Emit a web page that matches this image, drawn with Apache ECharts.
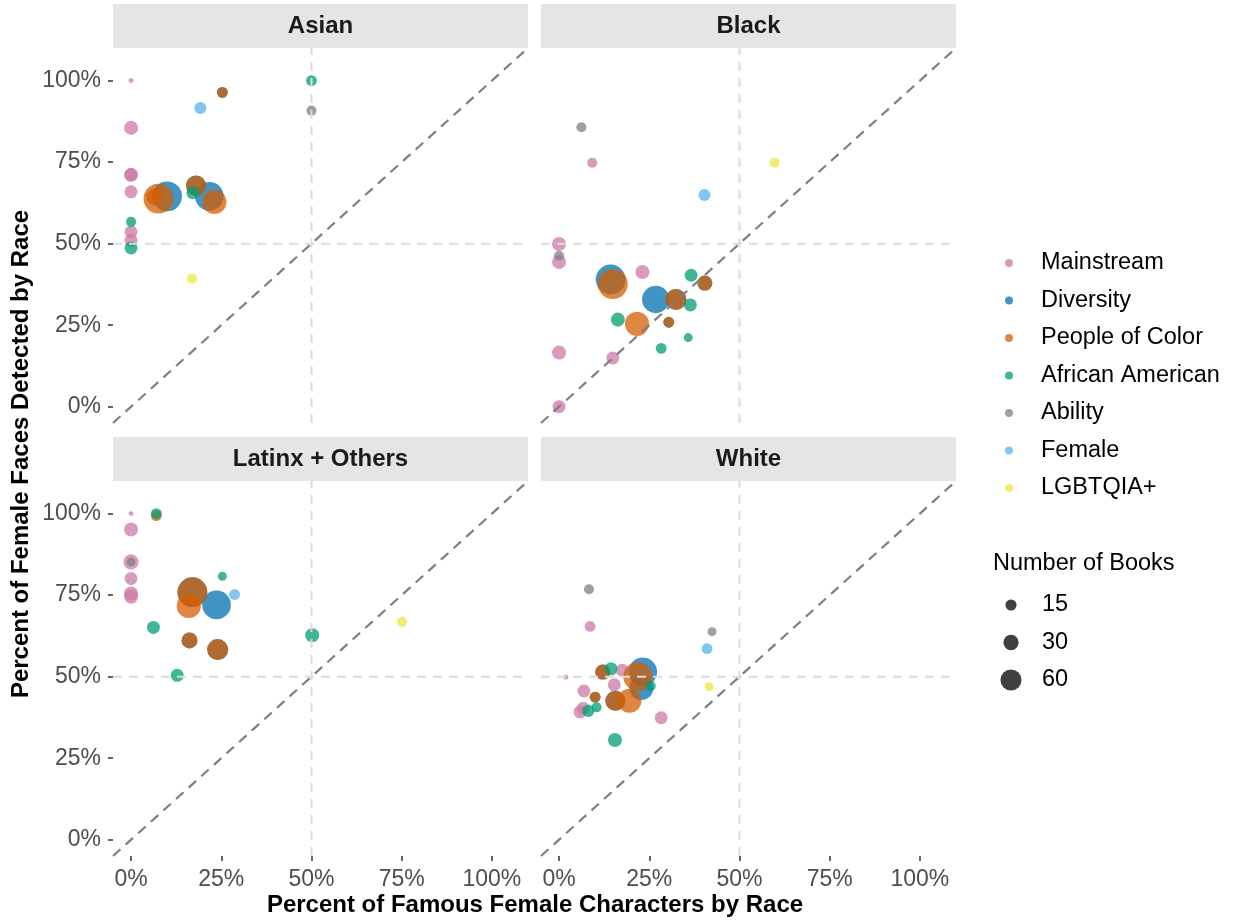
<!DOCTYPE html>
<html><head><meta charset="utf-8">
<script src="https://cdn.jsdelivr.net/npm/echarts@6/dist/echarts.min.js"></script>
<style>html,body{margin:0;padding:0;background:#fff}#c{width:1238px;height:924px}</style>
</head><body><div id="c"></div><script>
// ---------- data ----------
const panels = ['Asian', 'Black', 'Latinx + Others', 'White'];
const categories = ['Mainstream', 'Diversity', 'People of Color', 'African American', 'Ability', 'Female', 'LGBTQIA+'];
const categoryColors = ['#CC79A7', '#0072B2', '#D55E00', '#009E73', '#808080', '#56B4E9', '#F0E442'];
const xTicks = [0, 25, 50, 75, 100];
const yTicks = [0, 25, 50, 75, 100];
const sizeBreaks = [15, 30, 60];
const referenceLevel = 50;
const axisRange = [-5, 110];

// rows: [panel index, % famous female characters, % female faces detected, number of books]
const mainstream = [
  [0, 0, 100, 2], [0, 0, 85.5, 25], [0, 0, 71.1, 25], [0, 0, 71.1, 21], [0, 0, 65.9, 21], [0, 0, 53.6, 21], [0, 0, 51.0, 21],
  [1, 9.2, 74.8, 12], [1, 0, 49.9, 25], [1, 0, 44.4, 25], [1, 23.1, 41.3, 25], [1, 0, 16.6, 25], [1, 14.9, 14.9, 21], [1, 0, 0, 21],
  [2, 0, 100, 2], [2, 0, 95.1, 25], [2, 0, 85.2, 29], [2, 0, 80.1, 21], [2, 0, 75.5, 25], [2, 0, 74.5, 25],
  [3, 1.9, 49.8, 2], [3, 8.6, 65.4, 14], [3, 17.5, 52.0, 21], [3, 15.3, 47.5, 21], [3, 6.9, 45.6, 21], [3, 6.7, 40.3, 21], [3, 5.8, 39.2, 21], [3, 28.3, 37.4, 21]
];
const diversity = [
  [0, 10.0, 64.5, 125], [0, 21.7, 64.5, 115], [0, 25.3, 96.4, 14], [0, 18.0, 67.8, 54],
  [1, 14.3, 39.0, 125], [1, 26.8, 32.9, 105], [1, 40.4, 37.9, 29], [1, 32.4, 32.9, 60], [1, 30.4, 25.9, 14],
  [2, 17.0, 75.9, 125], [2, 23.7, 72.0, 115], [2, 16.2, 61.1, 33], [2, 24.0, 58.3, 60],
  [3, 23.2, 51.5, 115], [3, 22.8, 46.5, 80], [3, 12.1, 51.4, 29], [3, 10.0, 43.7, 14], [3, 15.6, 42.6, 54]
];
const peopleOfColor = [
  [0, 7.6, 63.8, 125], [0, 6.6, 64.3, 38], [0, 23.1, 62.8, 80], [0, 25.3, 96.4, 14], [0, 18.0, 67.8, 54],
  [1, 14.9, 37.6, 125], [1, 21.6, 25.4, 80], [1, 40.4, 37.9, 29], [1, 32.4, 32.9, 60], [1, 30.4, 25.9, 14],
  [2, 17.0, 75.9, 125], [2, 16.0, 71.7, 80], [2, 16.2, 61.1, 33], [2, 24.0, 58.3, 60], [2, 7.0, 99.4, 14],
  [3, 12.1, 51.4, 29], [3, 10.0, 43.7, 14], [3, 15.6, 42.6, 54], [3, 19.5, 42.6, 80], [3, 21.8, 50.0, 115]
];
const africanAmerican = [
  [0, 50, 100, 14], [0, 17.1, 65.6, 21], [0, 0, 56.7, 12], [0, 0, 48.7, 21],
  [1, 36.6, 40.3, 21], [1, 36.4, 31.2, 21], [1, 16.3, 26.7, 25], [1, 35.8, 21.2, 9], [1, 28.3, 17.9, 14],
  [2, 7.0, 100, 14], [2, 25.3, 80.8, 9], [2, 6.2, 65.1, 21], [2, 50.2, 62.7, 25], [2, 12.8, 50.4, 21],
  [3, 14.4, 52.4, 21], [3, 25.4, 47.1, 12], [3, 8.1, 39.5, 18], [3, 10.4, 40.6, 12], [3, 15.5, 30.6, 25]
];
const ability = [
  [0, 50, 90.8, 12],
  [1, 6.2, 85.7, 12], [1, 0, 46.3, 12],
  [2, 0, 85.2, 9],
  [3, 8.3, 76.8, 12], [3, 42.4, 63.8, 9]
];
const female = [
  [0, 19.2, 91.6, 18],
  [1, 40.3, 64.9, 18],
  [2, 28.7, 75.2, 14],
  [3, 41.0, 58.6, 14]
];
const lgbtqia = [
  [0, 16.9, 39.3, 12],
  [1, 59.7, 74.8, 12],
  [2, 75.1, 66.8, 12],
  [3, 41.6, 46.9, 9]
];
const categoryRows = [mainstream, diversity, peopleOfColor, africanAmerican, ability, female, lgbtqia];

// ---------- layout / style ----------
const FONT = '"Liberation Sans", Arial, Helvetica, sans-serif';
const sizeFn = n => 2.55 * Math.sqrt(n) + 1.3;
const PW = 415, PH = 375;
const gridPos = [[113, 48], [541, 48], [113, 481], [541, 481]];
const STRIP_H = 44;

const grids = gridPos.map(p => ({ left: p[0], top: p[1], width: PW, height: PH, outerBoundsMode: 'none', containLabel: false }));
const xAxes = gridPos.map((p, i) => {
  const bottom = i >= 2;
  return {
    type: 'value', gridIndex: i, min: axisRange[0], max: axisRange[1], position: 'bottom',
    axisLine: { show: false, onZero: false }, splitLine: { show: false },
    axisTick: { show: bottom, customValues: xTicks, length: 5, lineStyle: { color: '#333333', width: 1.5 } },
    axisLabel: { show: bottom, customValues: xTicks, formatter: v => v + '%', color: '#4D4D4D', fontSize: 23, fontFamily: FONT, margin: 12 }
  };
});
const yAxes = gridPos.map((p, i) => {
  const left = i % 2 === 0;
  return {
    type: 'value', gridIndex: i, min: axisRange[0], max: axisRange[1], position: 'left',
    axisLine: { show: false, onZero: false }, splitLine: { show: false },
    axisTick: { show: left, customValues: yTicks, length: 5, lineStyle: { color: '#333333', width: 1.5 } },
    axisLabel: { show: left, customValues: yTicks, formatter: v => v + '%', color: '#4D4D4D', fontSize: 23, fontFamily: FONT, margin: 12 }
  };
});

const series = [];
categories.forEach((cat, ci) => {
  panels.forEach((pn, pi) => {
    series.push({
      name: cat, type: 'scatter', xAxisIndex: pi, yAxisIndex: pi, silent: true, z: 2,
      data: categoryRows[ci].filter(r => r[0] === pi).map(r => [r[1], r[2], r[3]]),
      symbolSize: d => sizeFn(d[2]),
      itemStyle: { color: categoryColors[ci], opacity: 0.75 }
    });
  });
});
// reference lines drawn on top of the points
panels.forEach((pn, pi) => {
  const common = { type: 'line', xAxisIndex: pi, yAxisIndex: pi, silent: true, showSymbol: false, symbol: 'none', z: 5, animation: false };
  series.push(Object.assign({}, common, { data: [[referenceLevel, axisRange[0]], [referenceLevel, axisRange[1]]], lineStyle: { color: '#DCDCDC', width: 2, type: [9, 7] } }));
  series.push(Object.assign({}, common, { data: [[axisRange[0], referenceLevel], [axisRange[1], referenceLevel]], lineStyle: { color: '#DCDCDC', width: 2, type: [9, 7] } }));
  series.push(Object.assign({}, common, { data: [[axisRange[0], axisRange[0]], [axisRange[1], axisRange[1]]], lineStyle: { color: '#7F7F7F', width: 2.2, type: [10, 7] } }));
});

const graphics = [];
panels.forEach((pn, pi) => {
  const [l, t] = gridPos[pi];
  graphics.push({ type: 'rect', left: l, top: t - STRIP_H, shape: { width: PW, height: STRIP_H }, style: { fill: '#E5E5E5' }, silent: true });
  graphics.push({ type: 'text', x: l + PW / 2, y: t - STRIP_H / 2, style: { text: pn, fill: '#1A1A1A', font: 'bold 24px ' + FONT, align: 'center', verticalAlign: 'middle' }, silent: true });
});
graphics.push({ type: 'text', x: 535, y: 905, style: { text: 'Percent of Famous Female Characters by Race', fill: '#000', font: 'bold 24px ' + FONT, align: 'center', verticalAlign: 'middle' }, silent: true });
graphics.push({ type: 'text', x: 21, y: 454, rotation: Math.PI / 2, style: { text: 'Percent of Female Faces Detected by Race', fill: '#000', font: 'bold 24px ' + FONT, align: 'center', verticalAlign: 'middle' }, silent: true });
// size legend
graphics.push({ type: 'text', x: 993, y: 564, style: { text: 'Number of Books', fill: '#000', font: '23.5px ' + FONT, align: 'left', verticalAlign: 'middle' }, silent: true });
sizeBreaks.forEach((b, i) => {
  const cy = 605 + i * 37.5;
  graphics.push({ type: 'circle', shape: { cx: 1011, cy: cy, r: sizeFn(b) / 2 }, style: { fill: 'rgba(0,0,0,0.75)' }, silent: true });
  graphics.push({ type: 'text', x: 1042, y: cy, style: { text: String(b), fill: '#000', font: '23.5px ' + FONT, align: 'left', verticalAlign: 'middle' }, silent: true });
});

const chart = echarts.init(document.getElementById('c'), null, { renderer: 'canvas' });
chart.setOption({
  backgroundColor: '#fff',
  animation: false,
  textStyle: { fontFamily: FONT },
  grid: grids, xAxis: xAxes, yAxis: yAxes,
  legend: {
    data: categories, orient: 'vertical', left: 1000, top: 246,
    itemWidth: 22, itemHeight: 8, itemGap: 13.5, icon: 'circle', selectedMode: false,
    textStyle: { fontSize: 23.5, color: '#000', fontFamily: FONT, padding: [0, 0, 0, 16], lineHeight: 24 }
  },
  series: series,
  graphic: graphics
});
</script></body></html>
